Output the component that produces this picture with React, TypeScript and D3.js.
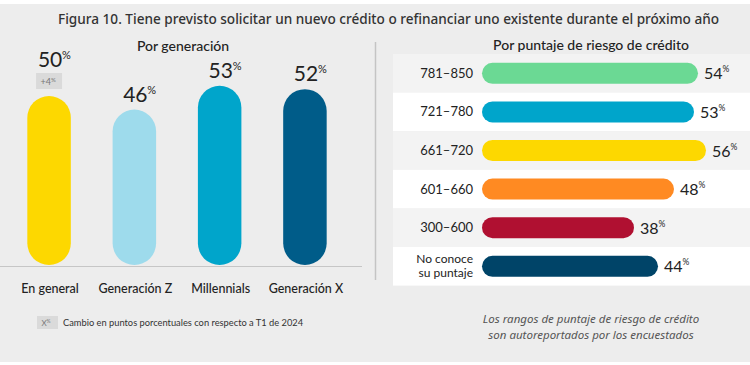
import React from 'react';
import { scaleLinear, scaleBand } from 'd3';

const generations = ['En general', 'Generación Z', 'Millennials', 'Generación X'];
const genValues = [50, 46, 53, 52];
const genColors = ['#fdd800', '#9edbec', '#00a5cb', '#005c89'];
const genDeltas = ['+4', '', '', ''];

const scoreRanges = ['781–850', '721–780', '661–720', '601–660', '300–600', 'No conoce|su puntaje'];
const scoreValues = [54, 53, 56, 48, 38, 44];
const scoreColors = ['#6bd994', '#00a5cb', '#fdd800', '#ff8a22', '#b01031', '#004468'];

const FONT = 'Lato, "Noto Sans", sans-serif';
const WIDE = '"Noto Sans", Lato, sans-serif';
const INK = '#222';

const W = 750;
const H = 365;

const App = () => {
    // left panel: vertical pill bars
    const baseY = 266;
    const x = scaleBand().domain(generations).range([6, 348]).paddingInner(0.49).paddingOuter(0.25);
    const y = scaleLinear().domain([0, 100]).range([baseY, baseY - 340]);
    const bw = x.bandwidth();

    // right panel: horizontal pill bars
    const rowTop = 54;
    const rowH = 38.6;
    const rows = scaleBand().domain(scoreRanges).range([rowTop, rowTop + rowH * 6]);
    const xs = scaleLinear().domain([0, 100]).range([482, 882]);
    const bh = 21;

    return (
        <svg width={W} height={H} style={{ position: 'absolute', left: 0, top: 0 }} fontFamily={FONT}>
            <rect x={0} y={4} width={W} height={358} fill="#ededed" />
            <text x={388.5} y={24} textAnchor="middle" fontSize={13.6} fontWeight={500} fill="#333" fontFamily={WIDE}>
                Figura 10. Tiene previsto solicitar un nuevo crédito o refinanciar uno existente durante el próximo año
            </text>

            <text x={183} y={51} textAnchor="middle" fontSize={14} fontWeight={500} fill={INK}>Por generación</text>
            <line x1={0} x2={362} y1={baseY + 0.5} y2={baseY + 0.5} stroke="#c6c6c6" strokeWidth={1} />
            {generations.map((g, i) => {
                const top = y(genValues[i]);
                const cx = x(g) + bw / 2;
                const hasDelta = genDeltas[i] !== '';
                const ly = hasDelta ? 67 : top - 8;
                return (
                    <g key={g}>
                        <rect x={x(g)} y={top} width={bw} height={baseY - 1 - top} rx={bw / 2} fill={genColors[i]} />
                        <text x={cx + 1} y={ly} textAnchor="middle" fontSize={21} fill={INK}>{genValues[i]}</text>
                        <text x={cx + 13} y={ly - 8} fontSize={11} fill={INK}>%</text>
                        {hasDelta && (
                            <g>
                                <rect x={cx - 13} y={73} width={26} height={16} fill="#dadada" />
                                <text x={cx - 1} y={85} textAnchor="middle" fontSize={9} fill="#777">
                                    {genDeltas[i]}<tspan fontSize={6} dy={-3}>%</tspan>
                                </text>
                            </g>
                        )}
                        <text x={cx + 1} y={293} textAnchor="middle" fontSize={12.5} fontWeight={500} fill={INK}>{g}</text>
                    </g>
                );
            })}
            <rect x={37} y={316} width={21} height={13} fill="#dadada" />
            <text x={46} y={326} textAnchor="middle" fontSize={8} fill="#777">X<tspan fontSize={5} dy={-3}>%</tspan></text>
            <text x={63} y={326} fontSize={9.3} fill="#333">Cambio en puntos porcentuales con respecto a T1 de 2024</text>

            <line x1={375.5} x2={375.5} y1={42} y2={280} stroke="#c4c4c4" strokeWidth={1.5} />
            <text x={591} y={50} textAnchor="middle" fontSize={14} fontWeight={500} fill={INK}>Por puntaje de riesgo de crédito</text>
            {scoreRanges.map((r, i) => {
                const ry = rows(r);
                const cy = ry + rowH / 2;
                const lines = r.split('|');
                return (
                    <g key={r}>
                        <rect x={393} y={ry} width={W - 393} height={rowH} fill={i % 2 === 0 ? '#f3f3f3' : '#ffffff'} />
                        <rect x={xs(0)} y={cy - bh / 2} width={xs(scoreValues[i]) - xs(0)} height={bh} rx={bh / 2} fill={scoreColors[i]} />
                        {lines.length === 1 ? (
                            <text x={473} y={cy + 4.5} textAnchor="end" fontSize={13} fill={INK}>{r}</text>
                        ) : (
                            <text x={473} y={cy - 3} textAnchor="end" fontSize={12} fill={INK}>
                                <tspan x={473}>{lines[0]}</tspan>
                                <tspan x={473} dy={13.5}>{lines[1]}</tspan>
                            </text>
                        )}
                        <text x={xs(scoreValues[i]) + 6} y={cy + 6} fontSize={16} fill={INK}>
                            {scoreValues[i]}<tspan fontSize={8.5} dy={-7}>%</tspan>
                        </text>
                    </g>
                );
            })}
            <text x={591} y={323} textAnchor="middle" fontSize={11.5} fontStyle="italic" fill="#555" fontFamily={WIDE}>
                Los rangos de puntaje de riesgo de crédito
            </text>
            <text x={591} y={339} textAnchor="middle" fontSize={11.5} fontStyle="italic" fill="#555" fontFamily={WIDE}>
                son autoreportados por los encuestados
            </text>
        </svg>
    );
};

export default App;
